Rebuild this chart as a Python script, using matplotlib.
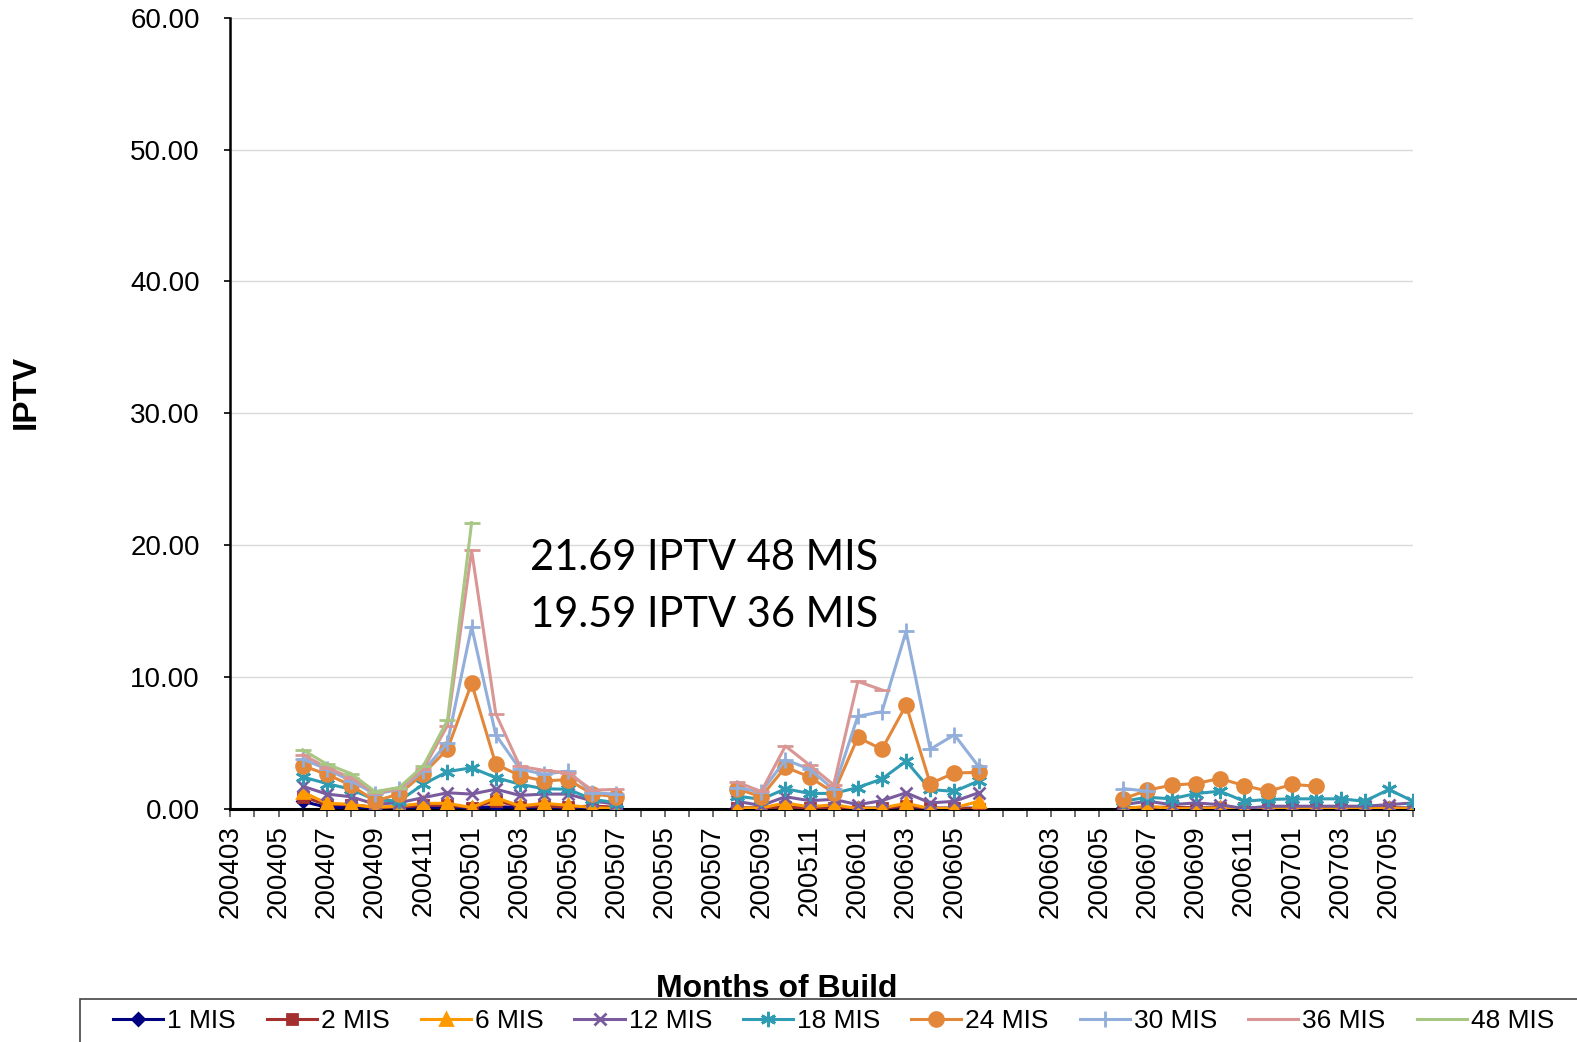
import matplotlib.pyplot as plt
from matplotlib.patches import Rectangle
import numpy as np

N = None

months = ['200403', '200404', '200405', '200406', '200407', '200408', '200409', '200410',
          '200411', '200412', '200501', '200502', '200503', '200504', '200505', '200506',
          '200507', '200504', '200505', '200506', '200507', '200508', '200509', '200510',
          '200511', '200512', '200601', '200602', '200603', '200604', '200605', '200606',
          '', '200602', '200603', '200604', '200605', '200606', '200607', '200608',
          '200609', '200610', '200611', '200612', '200701', '200702', '200703', '200704',
          '200705', '200706']

# values per series, None where the series has no data
mis1 = ([N, N, N, 0.55, 0.1, 0.08, 0.05, 0.05, 0.1, 0.08, 0.05, 0.15, 0.08, 0.1, 0.05, 0.1, 0.05]
        + [N, N, N, N, 0.05, 0.03, 0.08, 0.05, 0.05, 0.03, 0.03, 0.1, 0.03, 0.03, 0.03]
        + [N, N, N, N, N, 0.05, 0.05, 0.05, 0.03, 0.05, 0.03, 0.03, 0.03, 0.03, 0.03, 0.03, 0.03, 0.03])
mis2 = ([N, N, N, 0.9, 0.3, 0.3, 0.1, 0.1, 0.25, 0.25, 0.08, 0.6, 0.15, 0.2, 0.1, 0.2, 0.1]
        + [N, N, N, N, 0.05, 0.05, 0.13, 0.05, 0.05, 0.02, 0.02, 0.2, 0.02, 0.02, 0.0]
        + [N, N, N, N, N, 0.05, 0.1, 0.1, 0.05, 0.05, 0.03, 0.05, 0.05, 0.05, 0.05, 0.05, 0.05, 0.03])
mis6 = ([N, N, N, 1.27, 0.4, 0.33, 0.08, 0.2, 0.4, 0.4, 0.08, 0.83, 0.2, 0.4, 0.25, 0.08, 0.0]
        + [N, N, N, N, 0.05, 0.05, 0.43, 0.13, 0.3, 0.0, 0.05, 0.4, 0.0, 0.05, 0.55]
        + [N, N, N, N, N, 0.0, 0.18, 0.0, 0.0, 0.05, 0.0, 0.0, 0.0, 0.0, 0.0, 0.0, 0.0, 0.0])
mis12 = ([N, N, N, 1.7, 1.1, 0.9, 0.33, 0.45, 0.83, 1.2, 1.1, 1.47, 1.0, 1.1, 1.1, 0.58, 0.33]
         + [N, N, N, N, 0.55, 0.23, 0.9, 0.6, 0.7, 0.3, 0.6, 1.2, 0.43, 0.55, 1.2]
         + [N, N, N, N, N, 0.3, 0.56, 0.3, 0.43, 0.3, 0.0, 0.18, 0.18, 0.18, 0.18, 0.18, 0.3, 0.43])
mis18 = ([N, N, N, 2.4, 1.9, 1.47, 0.66, 0.58, 1.85, 2.8, 3.1, 2.35, 1.85, 1.5, 1.47, 0.7, 0.45]
         + [N, N, N, N, 0.95, 0.7, 1.5, 1.15, 1.15, 1.6, 2.25, 3.6, 1.45, 1.3, 2.1]
         + [N, N, N, N, N, 0.56, 0.86, 0.74, 1.14, 1.32, 0.56, 0.69, 0.74, 0.74, 0.74, 0.56, 1.45, 0.56])
mis24 = ([N, N, N, 3.25, 2.6, 1.77, 0.58, 1.1, 2.66, 4.5, 9.5, 3.37, 2.5, 2.1, 2.2, 1.1, 0.9]
         + [N, N, N, N, 1.5, 0.9, 3.15, 2.4, 1.2, 5.4, 4.5, 7.85, 1.9, 2.7, 2.75]
         + [N, N, N, N, N, 0.74, 1.4, 1.78, 1.9, 2.28, 1.75, 1.32, 1.83, 1.7, N, N, N, N])
mis30 = ([N, N, N, 3.75, 3.0, 2.1, 1.1, 1.45, 2.85, 5.0, 13.8, 5.6, 3.0, 2.6, 2.85, 1.2, 1.1]
         + [N, N, N, N, 1.6, 1.25, 3.7, 3.0, 1.45, 7.0, 7.35, 13.45, 4.5, 5.6, 3.2]
         + [N, N, N, N, N, 1.52, 1.32, N, N, N, N, N, N, N, N, N, N, N])
mis36 = ([N, N, N, 4.1, 3.1, 2.35, 1.2, 1.5, 3.0, 6.3, 19.59, 7.2, 3.2, 2.9, 2.7, 1.4, 1.45]
         + [N, N, N, N, 2.0, 1.3, 4.75, 3.3, 1.8, 9.65, 9.0, N, N, N, N]
         + [N] * 18)
mis48 = ([N, N, N, 4.46, 3.37, 2.66, 1.29, 1.6, 3.24, 6.7, 21.69, N, N, N, N, N, N]
         + [N] * 15
         + [N] * 18)

series = [
    ('1 MIS', mis1, '#000080', 'D', 6),
    ('2 MIS', mis2, '#A3302E', 's', 7),
    ('6 MIS', mis6, '#FF9900', '^', 9),
    ('12 MIS', mis12, '#7A5C9E', 'x', 9),
    ('18 MIS', mis18, '#2F9CB3', (6, 2, 0), 11),
    ('24 MIS', mis24, '#E3873A', 'o', 10),
    ('30 MIS', mis30, '#92AEDA', '+', 12),
    ('36 MIS', mis36, '#D99694', '_', 12),
    ('48 MIS', mis48, '#A8C684', '_', 12),
]

fig = plt.figure(figsize=(15.77, 10.42), dpi=100)
ax = fig.add_axes([0.146, 0.224, 0.75, 0.759])
plt.rcParams['font.family'] = 'Liberation Sans'

x = np.arange(len(months))
for name, vals, col, mk, ms in series:
    y = np.array([np.nan if v is None else v for v in vals], dtype=float)
    ax.plot(x, y, color=col, marker=mk, markersize=ms, linewidth=2.2,
            markeredgewidth=2, label=name, zorder=3)

ax.set_xlim(0, len(months) - 1)
ax.set_ylim(0, 60)
ax.set_yticks(np.arange(0, 61, 10))
ax.set_yticklabels(['%.2f' % v for v in np.arange(0, 61, 10)], fontsize=20,
                   family='Liberation Sans')
ax.set_xticks(x)
ax.set_xticklabels([m if i % 2 == 0 else '' for i, m in enumerate(months)],
                   rotation=90, fontsize=20, family='Liberation Sans')
ax.tick_params(axis='x', length=6, width=1.2, pad=6, color='#555555')
ax.tick_params(axis='y', length=4, width=1.2, pad=18)
ax.grid(axis='y', color='#D9D9D9', linewidth=1)
ax.set_axisbelow(True)
for s in ['top', 'right']:
    ax.spines[s].set_visible(False)
ax.spines['left'].set_linewidth(1.8)
ax.spines['bottom'].set_linewidth(2.2)
ax.spines['bottom'].set_zorder(2)

ax.set_xlabel('Months of Build', fontsize=23, fontweight='bold', family='Liberation Sans')
ax.xaxis.set_label_coords(0.462, -0.209)
ax.set_ylabel('IPTV', fontsize=24, fontweight='bold', family='Liberation Sans')
ax.yaxis.set_label_coords(-0.159, 0.527)

ax.text(12.4, 16.85, '21.69 IPTV 48 MIS\n19.59 IPTV 36 MIS', fontsize=30,
        family='Lato', va='center', ha='left', linespacing=1.6, zorder=5)

# legend box runs off the right and bottom edges, as in the original
fig.patches.append(Rectangle((0.051, -0.05), 1.0, 0.0913, transform=fig.transFigure,
                             facecolor='white', edgecolor='#444444', linewidth=1.2,
                             zorder=0))
leg = fig.legend(loc='center left', bbox_to_anchor=(0.0717, 0.0202, 0.9137, 0.0),
                 mode='expand', ncol=9, frameon=False, borderpad=0, borderaxespad=0,
                 handlelength=1.9, handletextpad=0.15,
                 prop={'family': 'Liberation Sans', 'size': 19})

fig.savefig('out.png', dpi=100)
